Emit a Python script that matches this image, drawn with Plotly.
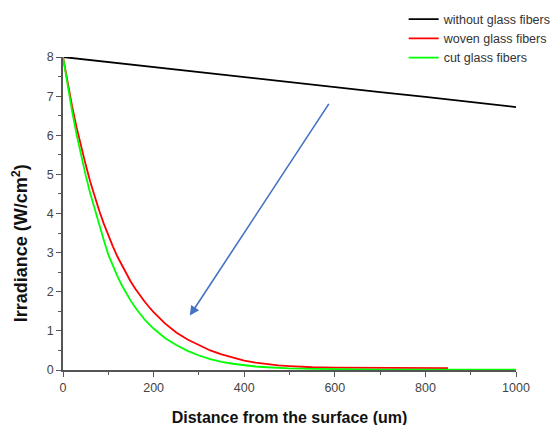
import plotly.graph_objects as go

dist_black = [0, 100, 200, 300, 400, 500, 600, 700, 800, 900, 1000]
irr_without = [8.00, 7.87, 7.74, 7.62, 7.49, 7.36, 7.23, 7.10, 6.98, 6.85, 6.72]

dist_woven = [0, 10, 20, 30, 40, 50, 60, 70, 80, 90, 100, 110, 120, 130, 140, 150,
              160, 170, 180, 190, 200, 225, 250, 275, 300, 325, 350, 375, 400, 425,
              450, 475, 500, 550, 600, 650, 700, 750, 800, 850]
irr_woven = [8.00, 7.35, 6.75, 6.20, 5.70, 5.25, 4.82, 4.43, 4.07, 3.74, 3.44, 3.16,
             2.90, 2.67, 2.45, 2.25, 2.07, 1.90, 1.75, 1.61, 1.48, 1.19, 0.96, 0.78,
             0.63, 0.50, 0.40, 0.31, 0.24, 0.19, 0.15, 0.12, 0.10, 0.07, 0.06, 0.06,
             0.05, 0.05, 0.05, 0.05]

dist_cut = [0, 10, 20, 30, 40, 50, 60, 70, 80, 90, 100, 110, 120, 130, 140, 150,
            160, 170, 180, 190, 200, 225, 250, 275, 300, 325, 350, 375, 400, 425,
            450, 475, 500, 550, 600, 650, 700, 750, 800, 850, 900, 950, 1000]
irr_cut = [8.00, 7.30, 6.62, 6.02, 5.48, 4.98, 4.52, 4.10, 3.72, 3.32, 2.95, 2.66,
           2.40, 2.16, 1.95, 1.76, 1.59, 1.43, 1.29, 1.17, 1.06, 0.82, 0.64, 0.49,
           0.37, 0.28, 0.21, 0.16, 0.12, 0.09, 0.07, 0.05, 0.04, 0.03, 0.02, 0.02,
           0.01, 0.01, 0.01, 0.01, 0.01, 0.01, 0.01]

names = ["without glass fibers", "woven glass fibers", "cut glass fibers"]
colors = ["#000000", "#FF0000", "#00FF00"]

x_title = "Distance from the surface (um)"
y_title = "Irradiance (W/cm<sup>2</sup>)"

arrow_start = (589, 6.84)
arrow_end = (280, 1.39)

fig = go.Figure()
for xs, ys, nm, c in [(dist_black, irr_without, names[0], colors[0]),
                      (dist_woven, irr_woven, names[1], colors[1]),
                      (dist_cut, irr_cut, names[2], colors[2])]:
    fig.add_trace(go.Scatter(x=xs, y=ys, mode="lines", name=nm,
                             line=dict(color=c, width=1.8)))

fig.add_annotation(x=arrow_end[0], y=arrow_end[1], ax=arrow_start[0], ay=arrow_start[1],
                   xref="x", yref="y", axref="x", ayref="y", text="",
                   showarrow=True, arrowhead=2, arrowsize=1.2, arrowwidth=1.6,
                   arrowcolor="#4472C4")

# y-axis title as rotated annotation (placed lower than axis centre, as in the reference)
fig.add_annotation(text="<b>" + y_title + "</b>", xref="paper", yref="paper",
                   x=-0.095, y=0.405, xanchor="center", yanchor="middle",
                   textangle=-90, showarrow=False,
                   font=dict(family="Liberation Sans, Arial", size=18, color="#111111"))

axis_common = dict(showgrid=False, zeroline=False, showline=True, linecolor="#555555",
                   linewidth=1.5, ticks="outside", ticklen=5, tickcolor="#555555",
                   tickwidth=1.2, automargin=False,
                   tickfont=dict(family="Liberation Sans, Arial", size=12.5,
                                 color="#444444"))

fig.update_xaxes(range=[0, 1000], dtick=200,
                 minor=dict(dtick=100, ticks="outside", ticklen=3, tickcolor="#555555"),
                 title=dict(text="<b>" + x_title + "</b>", standoff=18,
                            font=dict(family="Liberation Sans, Arial", size=16, color="#111111")),
                 **axis_common)
fig.update_yaxes(range=[0, 8], dtick=1,
                 minor=dict(dtick=0.5, ticks="outside", ticklen=3, tickcolor="#555555"),
                 **axis_common)

fig.update_layout(
    width=560, height=425,
    margin=dict(l=55, r=52, t=49, b=62.5, autoexpand=False),
    plot_bgcolor="white", paper_bgcolor="white",
    legend=dict(x=0.752, y=1.168, xanchor="left", yanchor="top",
                bgcolor="rgba(0,0,0,0)", tracegroupgap=0, itemwidth=30,
                font=dict(family="Liberation Sans, Arial", size=12.5, color="#333333")),
)

fig.write_html("out.html")
